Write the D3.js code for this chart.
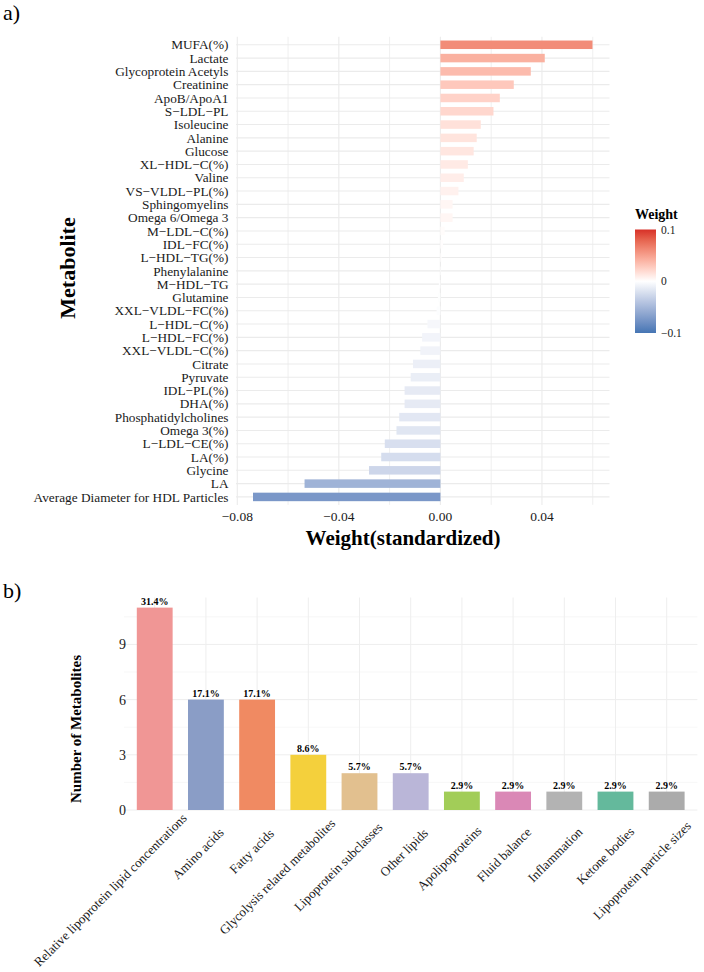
<!DOCTYPE html>
<html>
<head>
<meta charset="utf-8">
<script src="https://cdn.jsdelivr.net/npm/d3@7"></script>
<style>
  body { margin: 0; background: #fff; }
  svg { display: block; font-family: "Liberation Serif", "DejaVu Serif", serif; }
</style>
</head>
<body>
<div id="chart"></div>
<script>
// panel a: metabolites and their standardized weights (top to bottom)
const metabolites = [
    "MUFA(%)", "Lactate", "Glycoprotein Acetyls", "Creatinine", "ApoB/ApoA1", "S−LDL−PL",
    "Isoleucine", "Alanine", "Glucose", "XL−HDL−C(%)", "Valine", "VS−VLDL−PL(%)",
    "Sphingomyelins", "Omega 6/Omega 3", "M−LDL−C(%)", "IDL−FC(%)", "L−HDL−TG(%)",
    "Phenylalanine", "M−HDL−TG", "Glutamine", "XXL−VLDL−FC(%)", "L−HDL−C(%)",
    "L−HDL−FC(%)", "XXL−VLDL−C(%)", "Citrate", "Pyruvate", "IDL−PL(%)", "DHA(%)",
    "Phosphatidylcholines", "Omega 3(%)", "L−LDL−CE(%)", "LA(%)", "Glycine", "LA",
    "Average Diameter for HDL Particles"
];
const weights = [
    0.0599, 0.0411, 0.0356, 0.0289, 0.0234, 0.0209,
    0.0159, 0.0143, 0.0131, 0.0108, 0.0092, 0.0071,
    0.0048, 0.0048, 0.0017, 0.0010, 0.0005,
    0.0002, -0.0006, -0.0010, -0.0015, -0.0051,
    -0.0072, -0.0079, -0.0108, -0.0117, -0.0141, -0.0141,
    -0.0162, -0.0173, -0.0219, -0.0233, -0.0281, -0.0535,
    -0.0738
];
const xTicksA = [-0.08, -0.04, 0, 0.04];
const xGridA = [-0.08, -0.06, -0.04, -0.02, 0, 0.02, 0.04, 0.06];
const legendTicks = [0.1, 0, -0.1];

// panel b: metabolite groups
const groups = [
    "Relative lipoprotein lipid concentrations", "Amino acids", "Fatty acids",
    "Glycolysis related metabolites", "Lipoprotein subclasses", "Other lipids",
    "Apolipoproteins", "Fluid balance", "Inflammation", "Ketone bodies",
    "Lipoprotein particle sizes"
];
const counts = [11, 6, 6, 3, 2, 2, 1, 1, 1, 1, 1];
const pctLabels = ["31.4%", "17.1%", "17.1%", "8.6%", "5.7%", "5.7%", "2.9%", "2.9%", "2.9%", "2.9%", "2.9%"];
const groupColors = ["#F09695", "#8A9DC6", "#F08A62", "#F4D03C", "#E2C08F", "#BAB6D8",
                     "#A2CD58", "#DA88B6", "#B3B3B3", "#64B99C", "#ABABAB"];
const yTicksB = [0, 3, 6, 9];
const yMinorB = [1.5, 4.5, 7.5, 10.5];

const W = 704, H = 972;
const svg = d3.select("#chart").append("svg").attr("width", W).attr("height", H);
const ink = "#1a1a1a";

// ---------- panel a ----------
const x = d3.scaleLinear().domain([-0.0805, 0.0666]).range([236, 609.5]);
const y = d3.scalePoint().domain(metabolites).range([36.8, 504.9]).padding(0.6);
const bandH = y.step() * 0.64;

const fillScale = d3.scaleLinear()
    .domain([-0.1, 0, 0.1])
    .range(["#4575B4", "#FFFFFF", "#D73027"])
    .interpolate(d3.interpolateLab);

const gA = svg.append("g");

gA.selectAll("line.hgrid").data(metabolites).enter().append("line")
    .attr("x1", x.range()[0]).attr("x2", x.range()[1])
    .attr("y1", d => y(d)).attr("y2", d => y(d))
    .attr("stroke", "#EBEBEB").attr("stroke-width", 1.1);

gA.selectAll("line.vgrid").data(xGridA).enter().append("line")
    .attr("x1", d => x(d)).attr("x2", d => x(d))
    .attr("y1", 36.8).attr("y2", 504.9)
    .attr("stroke", "#EBEBEB").attr("stroke-width", d => xTicksA.includes(d) ? 1.1 : 0.8);

gA.selectAll("rect").data(metabolites).enter().append("rect")
    .attr("x", (d, i) => Math.min(x(0), x(weights[i])))
    .attr("width", (d, i) => Math.abs(x(weights[i]) - x(0)))
    .attr("y", d => y(d) - bandH / 2)
    .attr("height", bandH)
    .attr("fill", (d, i) => fillScale(weights[i]));

gA.selectAll("text.ylab").data(metabolites).enter().append("text")
    .attr("x", 228.5).attr("y", d => y(d))
    .attr("dy", "0.35em")
    .attr("text-anchor", "end")
    .attr("font-size", 13.3).attr("fill", ink)
    .text(d => d);

gA.selectAll("text.xlab").data(xTicksA).enter().append("text")
    .attr("x", d => x(d)).attr("y", 521)
    .attr("text-anchor", "middle")
    .attr("font-size", 13.5).attr("fill", ink)
    .text(d => d3.format(".2f")(d).replace("-", "−"));

gA.append("text")
    .attr("x", 403).attr("y", 545)
    .attr("text-anchor", "middle")
    .attr("font-size", 21).attr("font-weight", "bold")
    .text("Weight(standardized)");

gA.append("text")
    .attr("transform", "translate(75,268) rotate(-90)")
    .attr("text-anchor", "middle")
    .attr("font-size", 22).attr("font-weight", "bold")
    .text("Metabolite");

svg.append("text").attr("x", 3).attr("y", 20)
    .attr("font-size", 22).text("a)");

// legend
const legY = d3.scaleLinear().domain([-0.1, 0.1]).range([333, 229.5]);
const grad = svg.append("defs").append("linearGradient")
    .attr("id", "wgrad").attr("x1", 0).attr("y1", 1).attr("x2", 0).attr("y2", 0);
d3.range(-0.1, 0.1001, 0.02).forEach(v => {
    grad.append("stop").attr("offset", (v + 0.1) / 0.2).attr("stop-color", fillScale(v));
});
svg.append("text").attr("x", 635).attr("y", 219)
    .attr("font-size", 14).attr("font-weight", "bold").text("Weight");
svg.append("rect")
    .attr("x", 635).attr("y", legY(0.1))
    .attr("width", 21).attr("height", legY(-0.1) - legY(0.1))
    .attr("fill", "url(#wgrad)");
svg.selectAll("text.leg").data(legendTicks).enter().append("text")
    .attr("x", 661).attr("y", d => legY(d))
    .attr("dy", "0.35em")
    .attr("font-size", 11.5).attr("fill", ink)
    .text(d => d === 0 ? "0" : String(d).replace("-", "−"));

// ---------- panel b ----------
const xb = d3.scalePoint().domain(groups).range([124, 697.4]).padding(0.6);
const yb = d3.scaleLinear().domain([0, 11.55]).range([810, 597.5]);
const barW = xb.step() * 0.7;

const gB = svg.append("g");

gB.selectAll("line.minor").data(yMinorB).enter().append("line")
    .attr("x1", 124).attr("x2", 697.4)
    .attr("y1", d => yb(d)).attr("y2", d => yb(d))
    .attr("stroke", "#F3F3F3").attr("stroke-width", 0.7);
gB.selectAll("line.major").data(yTicksB).enter().append("line")
    .attr("x1", 124).attr("x2", 697.4)
    .attr("y1", d => yb(d)).attr("y2", d => yb(d))
    .attr("stroke", "#EEEEEE").attr("stroke-width", 1);
gB.selectAll("line.vg").data(groups).enter().append("line")
    .attr("x1", d => xb(d)).attr("x2", d => xb(d))
    .attr("y1", 597.5).attr("y2", 810)
    .attr("stroke", "#EEEEEE").attr("stroke-width", 1);

gB.selectAll("rect").data(groups).enter().append("rect")
    .attr("x", d => xb(d) - barW / 2)
    .attr("width", barW)
    .attr("y", (d, i) => yb(counts[i]))
    .attr("height", (d, i) => yb(0) - yb(counts[i]))
    .attr("fill", (d, i) => groupColors[i]);

gB.selectAll("text.pct").data(groups).enter().append("text")
    .attr("x", d => xb(d)).attr("y", (d, i) => yb(counts[i]) - 3)
    .attr("text-anchor", "middle")
    .attr("font-size", 10).attr("font-weight", "bold")
    .text((d, i) => pctLabels[i]);

gB.selectAll("text.yt").data(yTicksB).enter().append("text")
    .attr("x", 126).attr("y", d => yb(d))
    .attr("dy", "0.35em").attr("text-anchor", "end")
    .attr("font-size", 14).attr("fill", ink)
    .text(d => d);

gB.selectAll("text.xt").data(groups).enter().append("text")
    .attr("text-anchor", "end")
    .attr("font-size", 13).attr("fill", ink)
    .text(d => d)
    .each(function(d) {
        const L = this.getComputedTextLength();
        const ex = xb(d) + 12 + 0.1 * L;
        const ey = 840 - 0.1 * L;
        d3.select(this).attr("transform", `translate(${ex},${ey}) rotate(-45)`);
    });

gB.append("text")
    .attr("transform", "translate(81,729) rotate(-90)")
    .attr("text-anchor", "middle")
    .attr("font-size", 15).attr("font-weight", "bold")
    .text("Number of Metabolites");

svg.append("text").attr("x", 3).attr("y", 598)
    .attr("font-size", 22).text("b)");
</script>
</body>
</html>
